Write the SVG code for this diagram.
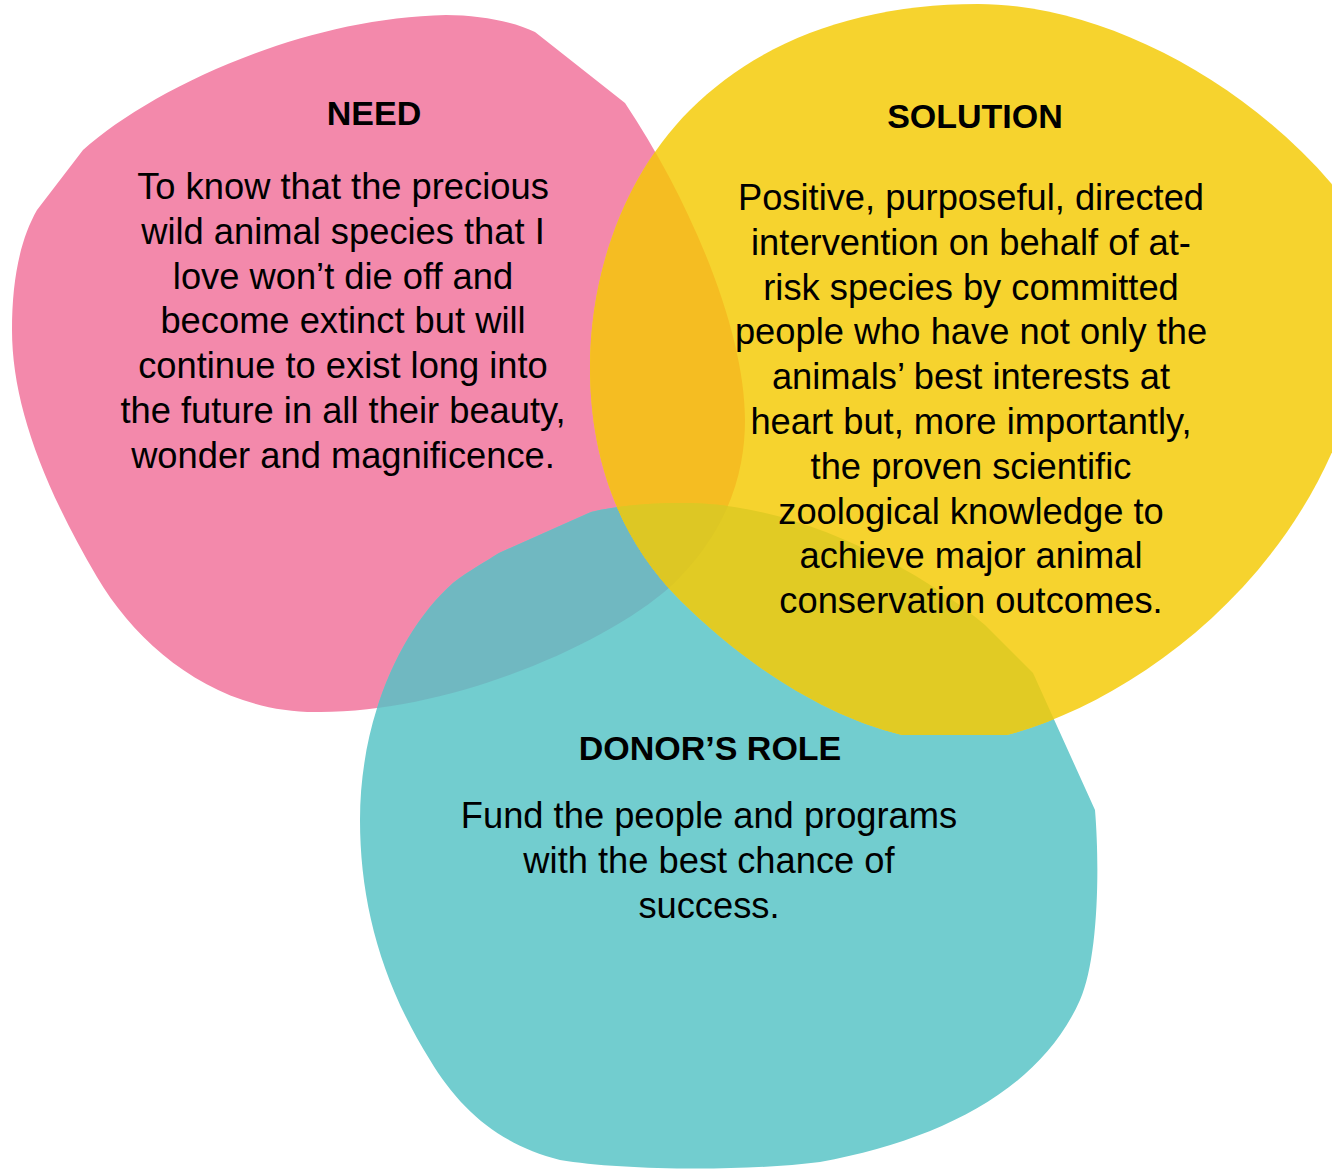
<svg xmlns="http://www.w3.org/2000/svg" width="1332" height="1169" viewBox="0 0 1332 1169">
<style>
.head{font-family:"Liberation Sans",Arial,sans-serif;font-weight:bold;font-size:34px;fill:#000;text-anchor:middle}
.body{font-family:"Liberation Sans",Arial,sans-serif;font-size:36.3px;fill:#000;text-anchor:middle}
</style>
<defs>
<clipPath id="clipPink"><path d="M535,32 L625,103 C690,200 745,330 745,420 C745,470 730,530 670,587 C605,645 450,712 320,712 C220,714 140,650 97,577 C40,480 12,400 12,330 C12,280 20,240 37,210 L83,150 C150,90 300,18 446,15 C480,15 515,22 535,32 Z"/></clipPath>
<clipPath id="clipTeal"><path d="M499,553 L591,512 C620,505 650,503 690,503 C800,505 920,570 985,625 L1033,673 L1095,810 C1100,870 1098,960 1080,1000 C1040,1090 940,1140 820,1162 C740,1172 620,1170 560,1160 C500,1145 460,1110 430,1060 C380,980 360,900 360,820 C360,720 400,630 453,583 C470,570 485,562 499,553 Z"/></clipPath>
</defs>

<g id="need">
<path fill="#F389AB" d="M535,32 L625,103 C690,200 745,330 745,420 C745,470 730,530 670,587 C605,645 450,712 320,712 C220,714 140,650 97,577 C40,480 12,400 12,330 C12,280 20,240 37,210 L83,150 C150,90 300,18 446,15 C480,15 515,22 535,32 Z"/>
<text class="head" x="374" y="125">NEED</text>
<text class="body" x="343" y="199">To know that the precious</text>
<text class="body" x="343" y="244">wild animal species that I</text>
<text class="body" x="343" y="289">love won’t die off and</text>
<text class="body" x="343" y="333">become extinct but will</text>
<text class="body" x="343" y="378">continue to exist long into</text>
<text class="body" x="343" y="423">the future in all their beauty,</text>
<text class="body" x="343" y="468">wonder and magnificence.</text>
</g>

<g id="donor">
<path fill="#72CDCF" d="M499,553 L591,512 C620,505 650,503 690,503 C800,505 920,570 985,625 L1033,673 L1095,810 C1100,870 1098,960 1080,1000 C1040,1090 940,1140 820,1162 C740,1172 620,1170 560,1160 C500,1145 460,1110 430,1060 C380,980 360,900 360,820 C360,720 400,630 453,583 C470,570 485,562 499,553 Z"/>
<path fill="#70B8C1" clip-path="url(#clipPink)" d="M499,553 L591,512 C620,505 650,503 690,503 C800,505 920,570 985,625 L1033,673 L1095,810 C1100,870 1098,960 1080,1000 C1040,1090 940,1140 820,1162 C740,1172 620,1170 560,1160 C500,1145 460,1110 430,1060 C380,980 360,900 360,820 C360,720 400,630 453,583 C470,570 485,562 499,553 Z"/>
<text class="head" x="710" y="760">DONOR’S ROLE</text>
<text class="body" x="709" y="828">Fund the people and programs</text>
<text class="body" x="709" y="873">with the best chance of</text>
<text class="body" x="709" y="918">success.</text>
</g>

<g id="solution">
<path fill="#F6D32E" d="M978,4 C860,4 760,40 690,110 C620,180 590,280 590,367 C590,460 620,540 680,600 C740,660 820,715 902,735 L1007,735 C1120,705 1280,600 1345,420 L1345,200 C1250,80 1100,4 978,4 Z"/>
<path fill="#F5BD22" clip-path="url(#clipPink)" d="M978,4 C860,4 760,40 690,110 C620,180 590,280 590,367 C590,460 620,540 680,600 C740,660 820,715 902,735 L1007,735 C1120,705 1280,600 1345,420 L1345,200 C1250,80 1100,4 978,4 Z"/>
<path fill="#E1CB24" clip-path="url(#clipTeal)" d="M978,4 C860,4 760,40 690,110 C620,180 590,280 590,367 C590,460 620,540 680,600 C740,660 820,715 902,735 L1007,735 C1120,705 1280,600 1345,420 L1345,200 C1250,80 1100,4 978,4 Z"/>
<g clip-path="url(#clipTeal)">
<path fill="#DDC724" clip-path="url(#clipPink)" d="M978,4 C860,4 760,40 690,110 C620,180 590,280 590,367 C590,460 620,540 680,600 C740,660 820,715 902,735 L1007,735 C1120,705 1280,600 1345,420 L1345,200 C1250,80 1100,4 978,4 Z"/>
</g>
<text class="head" x="975" y="128">SOLUTION</text>
<text class="body" x="971" y="210">Positive, purposeful, directed</text>
<text class="body" x="971" y="255">intervention on behalf of at-</text>
<text class="body" x="971" y="300">risk species by committed</text>
<text class="body" x="971" y="344">people who have not only the</text>
<text class="body" x="971" y="389">animals’ best interests at</text>
<text class="body" x="971" y="434">heart but, more importantly,</text>
<text class="body" x="971" y="479">the proven scientific</text>
<text class="body" x="971" y="524">zoological knowledge to</text>
<text class="body" x="971" y="568">achieve major animal</text>
<text class="body" x="971" y="613">conservation outcomes.</text>
</g>

<g id="connectors"></g>
</svg>
